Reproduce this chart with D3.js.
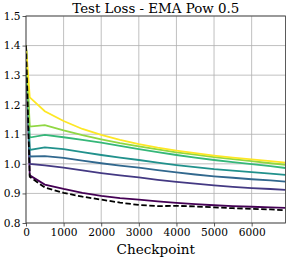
<!DOCTYPE html>
<html>
<head>
<meta charset="utf-8">
<script src="https://cdn.jsdelivr.net/npm/d3@7"></script>
<style>
	body { margin: 0; background: #fff; }
	svg { display: block; font-family: "DejaVu Serif", serif; }
</style>
</head>
<body>
<svg id="chart" width="289" height="258"></svg>
<script>
var checkpoints = [0, 100, 500, 1000, 1500, 2000, 2500, 3000, 3500, 4000, 4500, 5000, 5500, 6000, 6500, 6900];

var lossA = [1.40, 0.961, 0.930, 0.915, 0.902, 0.892, 0.884, 0.879, 0.873, 0.868, 0.864, 0.860, 0.857, 0.855, 0.853, 0.851];
var lossB = [1.40, 1.000, 0.995, 0.987, 0.978, 0.969, 0.961, 0.954, 0.946, 0.939, 0.933, 0.927, 0.922, 0.918, 0.915, 0.912];
var lossC = [1.40, 1.025, 1.026, 1.020, 1.011, 1.002, 0.994, 0.987, 0.979, 0.971, 0.964, 0.958, 0.953, 0.948, 0.944, 0.940];
var lossD = [1.40, 1.047, 1.056, 1.050, 1.040, 1.030, 1.021, 1.013, 1.004, 0.996, 0.989, 0.982, 0.977, 0.972, 0.967, 0.963];
var lossE = [1.40, 1.089, 1.098, 1.090, 1.081, 1.072, 1.061, 1.050, 1.040, 1.030, 1.021, 1.013, 1.006, 0.999, 0.992, 0.986];
var lossF = [1.40, 1.126, 1.131, 1.113, 1.097, 1.083, 1.070, 1.059, 1.049, 1.039, 1.031, 1.023, 1.016, 1.009, 1.002, 0.997];
var lossG = [1.40, 1.225, 1.178, 1.145, 1.118, 1.098, 1.081, 1.067, 1.055, 1.045, 1.036, 1.028, 1.021, 1.015, 1.009, 1.004];
var lossRef = [1.40, 0.956, 0.920, 0.902, 0.889, 0.879, 0.869, 0.861, 0.857, 0.858, 0.856, 0.853, 0.850, 0.848, 0.846, 0.843];

var seriesList = [lossA, lossB, lossC, lossD, lossE, lossF, lossG];
var seriesColors = ["#440154", "#443983", "#31688e", "#21918c", "#35b779", "#90d743", "#fde725"];

var xTicks = [0, 1000, 2000, 3000, 4000, 5000, 6000];
var yTicks = [0.8, 0.9, 1.0, 1.1, 1.2, 1.3, 1.4, 1.5];

var svg = d3.select("#chart");
var margin = {left: 26, top: 16, right: 3.5, bottom: 35};
var width = 289 - margin.left - margin.right;
var height = 258 - margin.top - margin.bottom;

var x = d3.scaleLinear().domain([0, 6900]).range([0, width]);
var y = d3.scaleLinear().domain([0.8, 1.5]).range([height, 0]);

var g = svg.append("g").attr("transform", "translate(" + margin.left + "," + margin.top + ")");

// grid
g.append("g").selectAll("line").data(xTicks).join("line")
	.attr("x1", d => x(d)).attr("x2", d => x(d))
	.attr("y1", 0).attr("y2", height)
	.attr("stroke", "#b0b0b0").attr("stroke-width", 0.8);
g.append("g").selectAll("line").data(yTicks).join("line")
	.attr("x1", 0).attr("x2", width)
	.attr("y1", d => y(d)).attr("y2", d => y(d))
	.attr("stroke", "#b0b0b0").attr("stroke-width", 0.8);

var line = d3.line()
	.x((d, i) => x(checkpoints[i]))
	.y(d => y(d));

g.append("clipPath").attr("id", "clip").append("rect")
	.attr("width", width).attr("height", height);

var lines = g.append("g").attr("clip-path", "url(#clip)");
seriesList.forEach(function (s, i) {
	lines.append("path")
		.attr("d", line(s))
		.attr("fill", "none")
		.attr("stroke", seriesColors[i])
		.attr("stroke-width", 1.8);
});
lines.append("path")
	.attr("d", line(lossRef))
	.attr("fill", "none")
	.attr("stroke", "#000")
	.attr("stroke-width", 1.8)
	.attr("stroke-dasharray", "5.5,2.5");

// axes
var xAxis = d3.axisBottom(x).tickValues(xTicks).tickFormat(d3.format("d")).tickSizeOuter(0).tickSize(3.5).tickPadding(2);
var yAxis = d3.axisLeft(y).tickValues(yTicks).tickFormat(d3.format(".1f")).tickSizeOuter(0).tickSize(3.5).tickPadding(2);

var gx = g.append("g").attr("transform", "translate(0," + height + ")").call(xAxis);
var gy = g.append("g").call(yAxis);
[gx, gy].forEach(function (a) {
	a.select(".domain").remove();
	a.selectAll("line").attr("stroke", "#333").attr("stroke-width", 0.8);
	a.selectAll("text").attr("fill", "#000").style("font-size", "10.6px").style("font-family", "DejaVu Serif");
});

// frame
g.append("rect")
	.attr("width", width).attr("height", height)
	.attr("fill", "none").attr("stroke", "#333").attr("stroke-width", 0.8);

svg.append("text")
	.attr("x", margin.left + width / 2).attr("y", 12.5)
	.attr("text-anchor", "middle")
	.style("font-size", "13.4px")
	.text("Test Loss - EMA Pow 0.5");

svg.append("text")
	.attr("x", margin.left + width / 2).attr("y", 253.5)
	.attr("text-anchor", "middle")
	.style("font-size", "13.6px")
	.text("Checkpoint");
</script>
</body>
</html>
